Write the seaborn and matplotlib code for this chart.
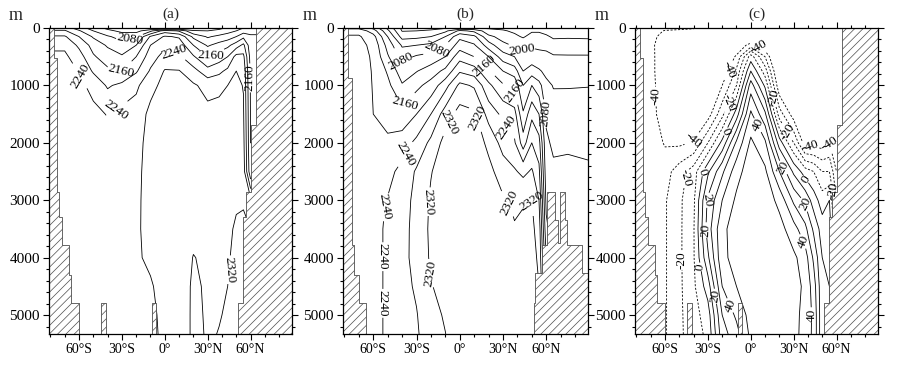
import numpy as np
import matplotlib
matplotlib.use('Agg')
import matplotlib.pyplot as plt
import seaborn as sns

# Grid nodes: latitude (deg, negative = south) and depth (m)
lats = [-81, -70, -60, -50, -40, -30, -20, -10, 0, 10, 20, 30, 38, 44, 50, 55, 60, 65, 75, 89]
depths = [0, 50, 150, 300, 500, 750, 1000, 1500, 2000, 2500, 3000, 3500, 4000, 4500, 5000, 5400]

# (a) one profile per latitude, surface -> bottom
dic_a = [
    [2140, 2165, 2205, 2232, 2248, 2256, 2260, 2264, 2266, 2268, 2270, 2270, 2271, 2271, 2271, 2271],
    [2140, 2165, 2205, 2232, 2248, 2256, 2260, 2264, 2266, 2268, 2270, 2270, 2271, 2271, 2271, 2271],
    [2100, 2125, 2160, 2192, 2218, 2238, 2250, 2260, 2265, 2268, 2270, 2270, 2271, 2271, 2271, 2271],
    [2060, 2080, 2115, 2145, 2165, 2195, 2228, 2250, 2260, 2265, 2268, 2270, 2271, 2271, 2271, 2271],
    [2030, 2050, 2085, 2115, 2140, 2168, 2195, 2238, 2255, 2263, 2267, 2270, 2271, 2271, 2271, 2271],
    [2015, 2030, 2065, 2095, 2125, 2160, 2210, 2252, 2262, 2267, 2270, 2272, 2273, 2273, 2273, 2273],
    [2005, 2025, 2075, 2120, 2160, 2195, 2232, 2258, 2266, 2270, 2272, 2274, 2275, 2275, 2275, 2275],
    [1995, 2070, 2165, 2200, 2222, 2245, 2268, 2290, 2295, 2296, 2296, 2293, 2287, 2276, 2270, 2268],
    [1980, 2140, 2205, 2232, 2255, 2283, 2292, 2297, 2299, 2300, 2300, 2299, 2297, 2295, 2292, 2290],
    [1985, 2115, 2195, 2225, 2248, 2282, 2292, 2298, 2301, 2303, 2304, 2304, 2303, 2302, 2300, 2300],
    [2005, 2045, 2110, 2160, 2205, 2255, 2285, 2296, 2302, 2306, 2309, 2312, 2321, 2325, 2326, 2326],
    [2020, 2040, 2075, 2115, 2160, 2215, 2268, 2290, 2300, 2306, 2310, 2313, 2315, 2316, 2317, 2318],
    [2030, 2050, 2090, 2135, 2180, 2230, 2272, 2292, 2302, 2308, 2312, 2315, 2317, 2318, 2319, 2321],
    [2045, 2065, 2100, 2150, 2200, 2250, 2280, 2294, 2304, 2310, 2315, 2317, 2318, 2320, 2322, 2323],
    [2060, 2080, 2120, 2180, 2255, 2280, 2290, 2298, 2305, 2312, 2318, 2322, 2325, 2326, 2326, 2326],
    [2080, 2100, 2150, 2210, 2250, 2270, 2278, 2285, 2292, 2300, 2318, 2324, 2326, 2326, 2326, 2326],
    [2100, 2110, 2125, 2135, 2145, 2152, 2156, 2158, 2160, 2170, 2290, 2320, 2326, 2326, 2326, 2326],
    [2100, 2110, 2125, 2135, 2145, 2152, 2156, 2158, 2160, 2170, 2290, 2320, 2326, 2326, 2326, 2326],
    [2100, 2110, 2125, 2135, 2145, 2152, 2156, 2158, 2160, 2170, 2290, 2320, 2326, 2326, 2326, 2326],
    [2100, 2110, 2125, 2135, 2145, 2152, 2156, 2158, 2160, 2170, 2290, 2320, 2326, 2326, 2326, 2326],
]

# (b)
dic_b = [
    [2150, 2185, 2205, 2212, 2215, 2218, 2220, 2222, 2225, 2228, 2230, 2232, 2232, 2232, 2232, 2232],
    [2150, 2185, 2205, 2212, 2215, 2218, 2220, 2222, 2225, 2228, 2230, 2232, 2232, 2232, 2232, 2232],
    [2110, 2140, 2175, 2190, 2195, 2197, 2198, 2200, 2210, 2222, 2230, 2232, 2232, 2232, 2232, 2232],
    [2030, 2050, 2080, 2105, 2125, 2155, 2170, 2190, 2205, 2228, 2242, 2244, 2244, 2244, 2244, 2244],
    [1950, 1958, 1985, 2035, 2065, 2098, 2124, 2173, 2220, 2252, 2262, 2265, 2268, 2268, 2265, 2262],
    [1950, 1960, 1990, 2040, 2085, 2118, 2150, 2200, 2250, 2285, 2292, 2295, 2293, 2285, 2278, 2275],
    [1950, 1965, 2000, 2050, 2095, 2140, 2175, 2240, 2290, 2318, 2325, 2327, 2325, 2318, 2305, 2300],
    [1955, 1990, 2040, 2080, 2120, 2170, 2225, 2300, 2335, 2340, 2340, 2340, 2338, 2332, 2325, 2318],
    [1960, 2050, 2110, 2140, 2185, 2235, 2290, 2335, 2345, 2350, 2350, 2350, 2350, 2348, 2346, 2345],
    [1960, 2030, 2090, 2125, 2160, 2220, 2275, 2328, 2345, 2348, 2350, 2350, 2350, 2350, 2348, 2348],
    [1955, 1975, 2010, 2060, 2120, 2165, 2210, 2265, 2310, 2332, 2340, 2342, 2342, 2342, 2342, 2342],
    [1950, 1965, 1985, 2010, 2060, 2120, 2165, 2230, 2265, 2300, 2325, 2335, 2340, 2340, 2340, 2340],
    [1945, 1952, 1970, 1995, 2040, 2100, 2150, 2215, 2245, 2285, 2315, 2322, 2330, 2332, 2332, 2332],
    [1940, 1945, 1955, 1990, 2010, 2040, 2080, 2125, 2180, 2270, 2318, 2325, 2330, 2330, 2330, 2330],
    [1945, 1955, 1975, 1995, 2015, 2060, 2120, 2190, 2240, 2285, 2320, 2328, 2330, 2330, 2330, 2330],
    [1945, 1955, 1975, 1992, 2012, 2045, 2095, 2160, 2215, 2250, 2280, 2305, 2315, 2320, 2320, 2320],
    [1945, 1950, 1965, 1990, 2010, 2030, 2050, 2075, 2085, 2095, 2110, 2130, 2160, 2200, 2240, 2260],
    [1930, 1940, 1955, 1975, 2005, 2020, 2038, 2055, 2075, 2085, 2090, 2095, 2100, 2100, 2100, 2100],
    [1930, 1942, 1956, 1976, 2004, 2020, 2038, 2056, 2076, 2086, 2090, 2095, 2100, 2100, 2100, 2100],
    [1930, 1940, 1955, 1975, 2004, 2021, 2039, 2055, 2074, 2084, 2090, 2095, 2100, 2100, 2100, 2100],
]

# (c)
dic_c = [
    [-32, -34, -36, -37, -36, -36, -36, -36, -34, -33, -33, -33, -33, -33, -33, -33],
    [-32, -34, -36, -37, -36, -36, -36, -36, -34, -33, -33, -33, -33, -33, -33, -33],
    [-35, -41, -45, -48, -50, -50, -48, -46, -41, -34, -31, -31, -31, -31, -31, -31],
    [-36, -43, -50, -55, -55, -55, -52, -48, -42, -25, -22, -22, -22, -22, -22, -22],
    [-38, -46, -60, -62, -60, -58, -55, -50, -39, -15, -12, -11, -11, -12, -14, -15],
    [-60, -62, -65, -62, -58, -55, -52, -45, -20, 8, 22, 25, 18, 5, -5, -8],
    [-65, -68, -70, -65, -55, -48, -40, -23, 3, 28, 40, 48, 48, 40, 30, 25],
    [-70, -70, -65, -50, -38, -28, -20, 5, 32, 46, 52, 54, 53, 50, 42, 35],
    [-70, -65, -55, -35, -5, 10, 25, 42, 52, 56, 58, 58, 58, 56, 54, 52],
    [-75, -72, -65, -50, -30, -15, -2, 22, 42, 52, 56, 57, 57, 56, 55, 55],
    [-75, -75, -72, -68, -62, -55, -48, -25, 5, 30, 47, 54, 56, 56, 55, 55],
    [-75, -75, -75, -72, -70, -66, -60, -45, -20, 8, 28, 44, 52, 54, 54, 54],
    [-80, -80, -78, -76, -74, -70, -66, -60, -45, -5, 18, 33, 45, 48, 46, 45],
    [-80, -80, -78, -76, -74, -70, -66, -60, -45, -10, 5, 18, 28, 35, 38, 38],
    [-80, -80, -78, -76, -74, -70, -66, -58, -45, -20, -5, 5, 10, 12, 12, 12],
    [-80, -80, -78, -76, -72, -68, -64, -55, -40, -20, 0, 5, 8, 10, 10, 10],
    [-80, -80, -78, -76, -72, -68, -64, -58, -50, -40, -30, -20, -10, 0, 0, 0],
    [-80, -80, -78, -76, -72, -68, -64, -58, -50, -40, -30, -20, -10, 0, 0, 0],
    [-80, -80, -78, -76, -72, -68, -64, -58, -50, -40, -30, -20, -10, 0, 0, 0],
    [-80, -80, -78, -76, -72, -68, -64, -58, -50, -40, -30, -20, -10, 0, 0, 0],
]

levels_a = [2000, 2040, 2080, 2120, 2160, 2200, 2240, 2280, 2320]
levels_b = [1960, 2000, 2040, 2080, 2120, 2160, 2200, 2240, 2280, 2320]
levels_c = [-40, -30, -20, -10, 0, 10, 20, 30, 40, 50]
labeled_a = [2080, 2160, 2240, 2320]
labeled_b = [2000, 2080, 2160, 2240, 2320]
labeled_c = [-40, -20, 0, 20, 40]

# Land (hatched): latitude band edges and depth where the sea floor starts
land_ac_edges = [-81, -77.2, -75.6, -73.7, -72.1, -67.0, -65.6, -60.0, -44.6, -41.2,
                 -9.0, -5.8, 51.2, 54.6, 57.0, 60.5, 64.0, 89]
land_ac_floor = [0, 528, 2851, 3287, 3780, 4303, 4796, 5400, 4796, 5400,
                 4796, 5400, 4796, 3287, 2851, 1690, 0]
land_b_edges = [-81, -77.2, -74.9, -73.3, -69.8, -65.1, 51.6, 52.3, 57.0, 60.5,
                66.3, 67.9, 69.3, 69.8, 73.3, 74.4, 84.9, 89]
land_b_floor = [0, 876, 3780, 4300, 4796, 5400, 4796, 4273, 3780, 2851,
                3345, 3751, 3345, 2851, 3345, 3780, 4273]

# label anchor points (lat, depth) for the contour labels
lab_pos_a = [(-24.7, 180), (-30.5, 760), (32.3, 470), (59, 870), (6.7, 412),
             (-58.4, 820), (-36.3, 1340), (47.6, 4216)]
lab_pos_b = [(-41.6, 587), (-16, 383), (60.7, 1486), (43.3, 366), (17.7, 645),
             (39.8, 1080), (-35.8, 1370), (-9, 1632), (11.9, 1570), (-21.4, 3025),
             (32.8, 3054), (50.2, 3025), (-20.7, 4273), (34, 1690), (-37, 2212),
             (-53.3, 3113), (-51, 3983), (-49.8, 4796)]
lab_pos_c = [(6.3, 296), (-17, 702), (17.9, 1196), (-69.3, 1196), (-39, 2009),
             (41.1, 2096), (57.4, 2009), (-14.7, 1312), (23.7, 1835), (-50.7, 2590),
             (-49.5, 4041), (-34.5, 2503), (41.2, 2590), (55.1, 2851), (-34.5, 4158),
             (-26.3, 4680), (-14.7, 1835), (23.7, 2416), (-31, 2996), (-31.5, 3519),
             (40, 3054), (5.1, 1690), (38.8, 3693), (-11.2, 4797), (41.2, 5000)]

sns.set_theme(style='ticks')
plt.rcParams['font.family'] = ['Liberation Serif', 'DejaVu Serif']
plt.rcParams['hatch.linewidth'] = 0.5
plt.rcParams['axes.linewidth'] = 0.9

fig = plt.figure(figsize=(8.97, 3.71), dpi=100)
lefts = [49 / 897, 343 / 897, 635 / 897]
widths = [243 / 897, 245 / 897, 243 / 897]

panels = [
    ('(a)', dic_a, levels_a, labeled_a, lab_pos_a, land_ac_edges, land_ac_floor),
    ('(b)', dic_b, levels_b, labeled_b, lab_pos_b, land_b_edges, land_b_floor),
    ('(c)', dic_c, levels_c, labeled_c, lab_pos_c, land_ac_edges, land_ac_floor),
]


def style_of(lv):
    # negative contours are drawn with short dashes
    return (0, (2.5, 2.0)) if lv < 0 else '-'


for i, (title, dic, levels, labeled, lab_pos, l_edges, l_floor) in enumerate(panels):
    ax = fig.add_axes([lefts[i], 37 / 371, widths[i], 306 / 371])
    field = np.array(dic, dtype=float).T
    plain = [lv for lv in levels if lv not in labeled]
    # unlabeled contours
    ax.contour(lats, depths, field, levels=plain, colors='black', linewidths=0.6,
               linestyles=[style_of(lv) for lv in plain])
    # labeled contours
    cs = ax.contour(lats, depths, field, levels=labeled, colors='black',
                    linewidths=0.6, linestyles=[style_of(lv) for lv in labeled])
    ax.clabel(cs, fmt='%d', fontsize=9.5, inline=True, inline_spacing=1,
              manual=lab_pos)
    # hatched land
    ax.fill_between(l_edges, l_floor + [l_floor[-1]], 5400, step='post',
                    facecolor='white', edgecolor='0.3', hatch='////',
                    linewidth=0.6, zorder=3)
    ax.set_xlim(-81, 89)
    ax.set_ylim(5330, 0)
    ax.set_xticks([-60, -30, 0, 30, 60])
    ax.set_xticklabels(['60°S', '30°S', '0°', '30°N', '60°N'])
    ax.set_xticks(np.arange(-80, 90, 10), minor=True)
    ax.set_yticks(np.arange(0, 6000, 1000))
    ax.set_yticks(np.arange(0, 5400, 200), minor=True)
    ax.tick_params(which='both', direction='out', top=True, right=True,
                   labeltop=False, labelright=False, colors='black',
                   labelsize=11, width=0.8, pad=2)
    ax.tick_params(axis='x', labelsize=10)
    ax.tick_params(which='major', length=4.5)
    ax.tick_params(which='minor', length=2.5)
    for s in ax.spines.values():
        s.set_color('black')
        s.set_zorder(5)
    ax.set_title(title, fontsize=11, pad=7)
    ax.annotate('m', xy=(0, 1), xycoords='axes fraction', xytext=(-33, 13),
                textcoords='offset pixels', ha='center', va='center', fontsize=13)

fig.savefig('out.png', dpi=100)
